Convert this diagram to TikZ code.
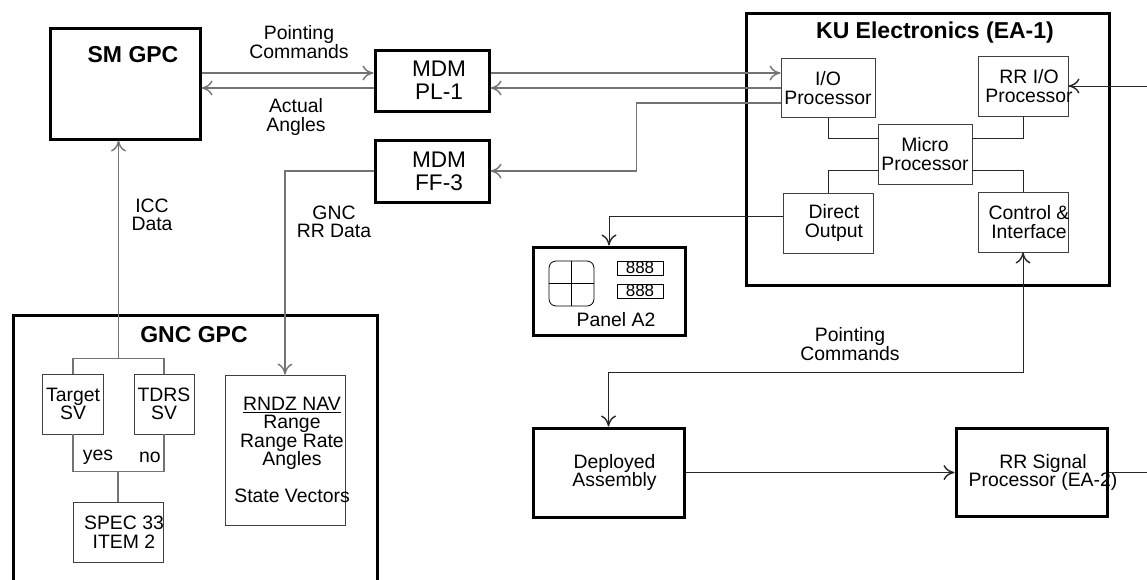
\documentclass[tikz,border=0pt]{standalone}
\usepackage{fontspec}
\setmainfont{Liberation Sans}
\usepackage{tikz}
\usetikzlibrary{arrows.meta, calc}

\tikzset{lbl/.style={label={[align=center, xshift=6pt]center:{#1}}},
	mdmlbl/.style={label={[align=center, xshift=7pt, font=\fontsize{22.6}{23}\selectfont]center:{#1}}}}

\begin{document}
\begin{tikzpicture}[x=1pt, y=-1pt, >={Computer Modern Rightarrow[length=11pt,width=15pt,line width=1.4pt]},
			font=\fontsize{19.4}{18.5}\selectfont]
			\tikzstyle{heavy}=[draw, line width=3pt]
			\tikzstyle{unit}=[draw=black!75, line width=0.9pt, align=center, minimum width=90pt, minimum height=60pt]
			\tikzstyle{link}=[draw=black!55, line width=1.2pt]
			\tikzstyle{wire}=[draw=black!85, line width=0.9pt]
			\tikzstyle{title}=[font=\fontsize{23}{26}\selectfont\bfseries]
			\tikzstyle{txt}=[align=center, inner sep=0pt]
			\useasboundingbox (0,0) rectangle (1147,579);
			\clip (0,0) rectangle (1147,579);

			% shuttle side
			\node[heavy, minimum width=150pt, minimum height=111pt,
				label={[title, xshift=8pt, yshift=28.5pt]center:SM GPC}] (smgpc) at (125,83.5) {};
			\node[heavy, minimum width=114pt, minimum height=61pt, mdmlbl={MDM\\PL-1}] (pl1) at (432,80.5) {};
			\node[heavy, minimum width=114pt, minimum height=62pt, mdmlbl={MDM\\FF-3}] (ff3) [below of=pl1, node distance=90.5pt] {};
			\node[heavy, minimum width=364pt, minimum height=285pt,
				label={[title, xshift=-1pt, yshift=122.5pt]center:GNC GPC}] (gnc) at (195,457.5) {};
			\node[unit, minimum width=60pt] (target) at (73,404) {Target\\SV};
			\node[unit, minimum width=60pt] (tdrs) [right of=target, node distance=91pt] {TDRS\\SV};
			\node[unit, lbl={SPEC 33\\ITEM 2}] (spec) at (118,532) {};
			\node[unit, minimum width=120pt, minimum height=150pt,
				label={[align=center, xshift=7pt]center:{\underline{RNDZ NAV}\\Range\\Range Rate\\Angles\\[18.5pt]State Vectors}}] (rndz) at (285,450) {};

			% Ku band electronics
			\node[heavy, minimum width=363pt, minimum height=272pt,
				label={[title, xshift=7.5pt, yshift=116pt]center:{KU Electronics (EA-1)}}] (ku) at (927.5,149) {};
			\node[unit, minimum width=91pt, minimum height=59pt] (io) at (828,88) {I/O\\Processor};
			\node[unit, lbl={RR I/O\\Processor}] (rrio) at (1023,86) {};
			\node[unit] (micro) at (925,154) {Micro\\Processor};
			\node[unit, lbl={Direct\\Output}] (direct) at (828,223) {};
			\node[unit, lbl={Control \&\\Interface}] (ctrl) at (1023,222) {};

			% panel A2
			\node[heavy, minimum width=152pt, minimum height=88pt] (panel) at (609,291) {};
			\node[draw, line width=0.8pt, rounded corners=7pt, minimum size=45pt] (keypad) at (571.5,283.5) {};
			\draw[line width=0.8pt] (keypad.north) -- (keypad.south) (keypad.west) -- (keypad.east);
			\node[draw, line width=0.8pt, minimum width=46pt, minimum height=14pt, inner sep=0pt,
				font=\fontsize{17}{17}\selectfont] (digA) at (640,268) {888};
			\node[draw, line width=0.8pt, minimum width=46pt, minimum height=14pt, inner sep=0pt,
				font=\fontsize{17}{17}\selectfont] (digB) [below of=digA, node distance=23pt] {888};
			\node (paneltxt) at (616,320) {Panel A2};

			% deployed part
			\node[heavy, minimum width=151pt, minimum height=89pt, lbl={Deployed\\Assembly}] (deployed) at (608.5,472.5) {};
			\node[heavy, minimum width=151pt, minimum height=88pt,
				label={[align=center, xshift=11.5pt]center:{RR Signal\\Processor (EA-2)}}] (rrsig) at (1031.5,472.5) {};
			\coordinate (rim) at (1147,0);

			% connectors
			\draw[link,->] ([yshift=7.5pt]pl1.west -| smgpc.east) -- ([yshift=7.5pt]pl1.west);
			\draw[link,->] ([yshift=-7.5pt]pl1.west) -- ([yshift=-7.5pt]pl1.west -| smgpc.east);
			\draw[link,->] ([yshift=7.5pt]pl1.east) -- ([yshift=7.5pt]pl1.east -| io.west);
			\draw[link,->] (io.west) -- (io.west -| pl1.east);
			\draw[link,->] ([yshift=-15pt]io.west) -- ++(-144,0) |- (ff3.east);
			\draw[link,->] (ff3.west) -| (rndz.north);
			\coordinate (fork) at ($(target.north)!0.5!(tdrs.north)+(0,-15)$);
			\draw[link] (target.north) |- (fork) -| (tdrs.north);
			\draw[link,->] (fork) -- (fork |- smgpc.south);
			\coordinate (merge) at ($(spec.north)+(0,-30)$);
			\draw[link] (target.south) |- (merge) -| (tdrs.south);
			\draw[link] (merge) -- (spec.north);
			\draw[wire] (io.south) |- ([yshift=16pt]micro.west);
			\draw[wire] (rrio.south) |- ([yshift=16pt]micro.east);
			\draw[wire] ([yshift=-16pt]micro.west) -| (direct.north);
			\draw[wire] ([yshift=-16pt]micro.east) -| (ctrl.north);
			\draw[wire,->] ([yshift=7pt]direct.west) -| (panel.north);
			\draw[wire,->] (rrio.east -| rim) -- (rrio.east);
			\coordinate (pbend) at ($(deployed.north)+(0,-54)$);
			\draw[wire,<->] (ctrl.south) |- (pbend) -- (deployed.north);
			\path (deployed) edge[wire,->] (rrsig);
			\draw[wire] (rrsig.east) -- (rrsig.east -| rim);

			% labels
			\node[txt] (pcmd) at (299,42) {Pointing\\Commands};
			\node[txt] (angles) at (296,117) {Actual\\Angles};
			\node[txt] (iccdata) at (152,215) {ICC\\Data};
			\node[txt] (gncdata) at (334,222) {GNC\\RR Data};
			\node[txt] (yes) at (98,457) {yes};
			\node[txt] (no) at (150,457) {no};
			\node[txt] (kucmd) at (850,344) {Pointing\\Commands};
		\end{tikzpicture}
\end{document}
